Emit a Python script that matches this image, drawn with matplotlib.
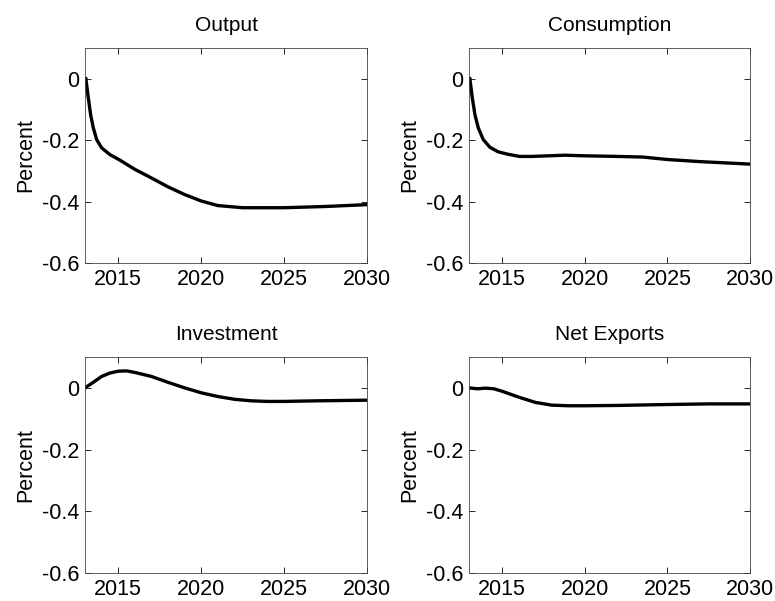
import matplotlib
matplotlib.use("Agg")
import matplotlib.pyplot as plt

plt.rcParams['font.family'] = ['Liberation Sans', 'DejaVu Sans']

# output
out_x = [2013.05, 2013.2, 2013.34, 2013.5, 2013.7, 2014.0, 2014.5, 2015.1, 2016, 2017, 2018, 2019, 2020, 2021, 2022.5, 2025, 2027.5, 2030]
out_y = [0.0, -0.063, -0.118, -0.16, -0.198, -0.225, -0.247, -0.265, -0.295, -0.323, -0.352, -0.377, -0.398, -0.413, -0.42, -0.42, -0.416, -0.41]

# consumption
con_x = [2013.05, 2013.2, 2013.36, 2013.56, 2013.86, 2014.26, 2014.76, 2015.36, 2016.06, 2016.8, 2018.8, 2020, 2022, 2023.5, 2025, 2027, 2030]
con_y = [0.0, -0.063, -0.118, -0.16, -0.198, -0.223, -0.238, -0.246, -0.253, -0.253, -0.249, -0.251, -0.253, -0.255, -0.263, -0.27, -0.278]

# investment
inv_x = [2013.0, 2013.5, 2014, 2014.5, 2015, 2015.5, 2016, 2017, 2018, 2019, 2020, 2021, 2022, 2023, 2024, 2025, 2027, 2030]
inv_y = [0.0, 0.018, 0.037, 0.048, 0.054, 0.055, 0.05, 0.037, 0.018, 0.0, -0.016, -0.028, -0.037, -0.042, -0.044, -0.044, -0.042, -0.04]

# net exports
nx_x = [2013.0, 2013.5, 2014, 2014.5, 2015, 2016, 2017, 2018, 2019, 2020, 2022, 2025, 2027.5, 2030]
nx_y = [0.0, -0.003, -0.001, -0.003, -0.011, -0.03, -0.047, -0.056, -0.058, -0.058, -0.057, -0.054, -0.052, -0.052]

titles = ["Output", "Consumption", "Investment", "Net Exports"]
series = [(out_x, out_y), (con_x, con_y), (inv_x, inv_y), (nx_x, nx_y)]
xticks = [2015, 2020, 2025, 2030]
yticks = [0, -0.2, -0.4, -0.6]
yticklabels = ["0", "-0.2", "-0.4", "-0.6"]

fig = plt.figure(figsize=(7.75, 6.01), dpi=100)
boxes = [
    [0.1097, 0.5624, 0.3639, 0.3577],
    [0.6052, 0.5624, 0.3626, 0.3577],
    [0.1097, 0.0466, 0.3639, 0.3594],
    [0.6052, 0.0466, 0.3626, 0.3594],
]

for box, title, (x, y) in zip(boxes, titles, series):
    ax = fig.add_axes(box)
    ax.plot(x, y, color="black", linewidth=2.4, solid_joinstyle="round")
    ax.set_xlim(2013, 2030)
    ax.set_ylim(-0.6, 0.1)
    ax.set_xticks(xticks)
    ax.set_yticks(yticks)
    ax.set_yticklabels(yticklabels)
    ax.tick_params(direction="in", top=True, right=True, labelsize=15.5, length=4, width=0.6, pad=4)
    ax.set_title(title, fontsize=15, pad=12)
    ax.set_ylabel("Percent", fontsize=15.5, labelpad=4)
    for s in ax.spines.values():
        s.set_linewidth(0.6)
        s.set_color("#444444")

fig.savefig("out.png", dpi=100)
